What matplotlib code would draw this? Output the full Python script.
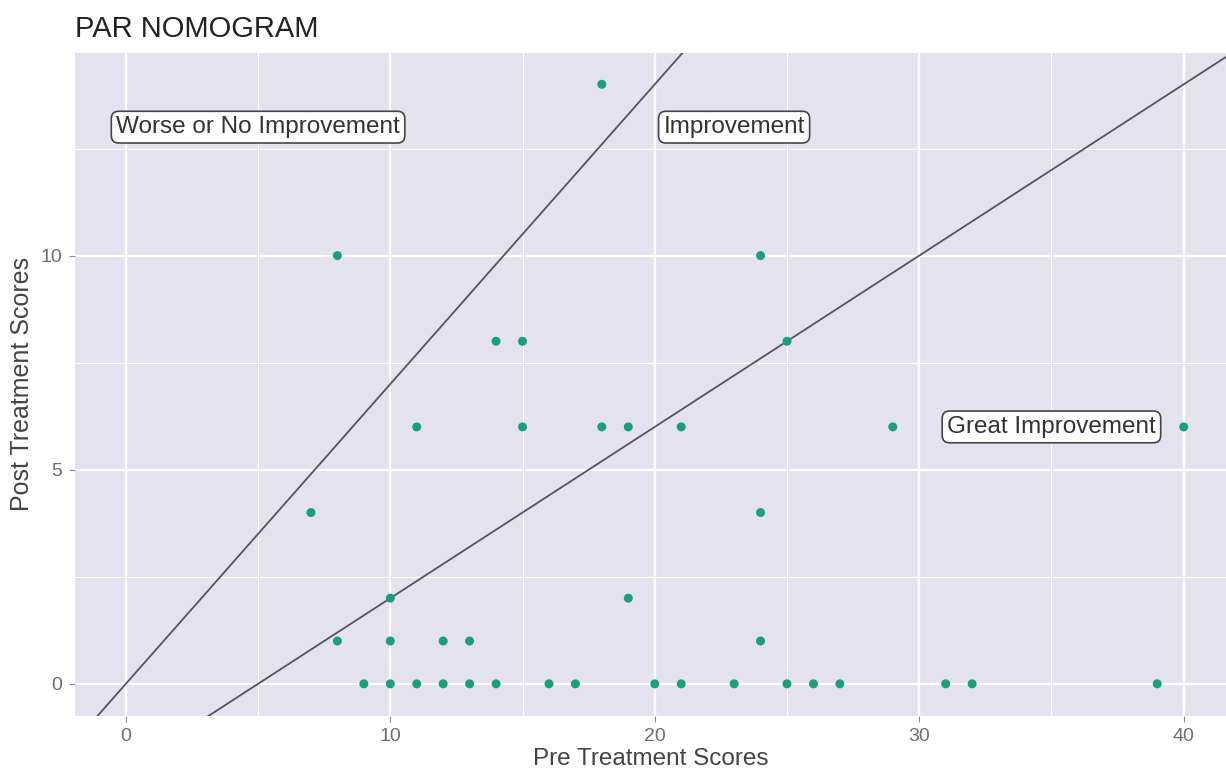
import matplotlib.pyplot as plt
import numpy as np

plt.rcParams['font.family'] = ['Liberation Sans', 'DejaVu Sans']

pre_scores = [18, 8, 24, 14, 15, 25, 11, 15, 18, 19, 21, 29, 40, 7, 24, 10, 19,
              8, 10, 12, 13, 24,
              9, 10, 11, 12, 13, 14, 16, 17, 20, 21, 23, 25, 26, 27, 31, 32, 39]
post_scores = [14, 10, 10, 8, 8, 8, 6, 6, 6, 6, 6, 6, 6, 4, 4, 2, 2,
               1, 1, 1, 1, 1,
               0, 0, 0, 0, 0, 0, 0, 0, 0, 0, 0, 0, 0, 0, 0, 0, 0]

# boundary lines: (slope, intercept)
boundaries = [(0.7, 0.0), (0.4, -2.0)]

region_labels = ["Worse or No Improvement", "Improvement", "Great Improvement"]
label_x = [5, 23, 35]
label_y = [13, 13, 6]

fig = plt.figure(figsize=(12.26, 7.74), dpi=100)
ax = fig.add_axes([0.061, 0.075, 0.939, 0.857])
ax.set_facecolor("#E4E2EF")

xmin, xmax = -1.93, 41.6
ymin, ymax = -0.75, 14.74
ax.set_xlim(xmin, xmax)
ax.set_ylim(ymin, ymax)

ax.set_xticks([0, 10, 20, 30, 40])
ax.set_xticks([5, 15, 25, 35], minor=True)
ax.set_yticks([0, 5, 10])
ax.set_yticks([2.5, 7.5, 12.5], minor=True)
ax.grid(True, which="major", color="white", linewidth=1.6)
ax.grid(True, which="minor", color="white", linewidth=0.8)
ax.set_axisbelow(True)
for s in ax.spines.values():
    s.set_visible(False)
ax.tick_params(which="major", colors="#8A8A8A", length=4, labelsize=14,
               labelcolor="#6E6E6E", pad=5)
ax.tick_params(which="minor", length=0)

xs = np.array([xmin, xmax])
for slope, icpt in boundaries:
    ax.plot(xs, slope * xs + icpt, color="#55535F", linewidth=1.3, zorder=2)

ax.scatter(pre_scores, post_scores, s=42, color="#1B9E80", zorder=3,
           edgecolors="none")

for txt, x, y in zip(region_labels, label_x, label_y):
    ax.text(x, y, txt, ha="center", va="center", fontsize=17.5, color="#333333",
            bbox=dict(boxstyle="round,pad=0.2,rounding_size=0.3",
                      facecolor="white", edgecolor="#444444", linewidth=1.2),
            zorder=4)

ax.set_xlabel("Pre Treatment Scores", fontsize=17.5, color="#444444", labelpad=2)
ax.set_ylabel("Post Treatment Scores", fontsize=18, color="#444444", labelpad=5)
fig.text(0.061, 0.962, "PAR NOMOGRAM", fontsize=21, color="#222222",
         ha="left", va="center")

fig.savefig("out.png", dpi=100)
